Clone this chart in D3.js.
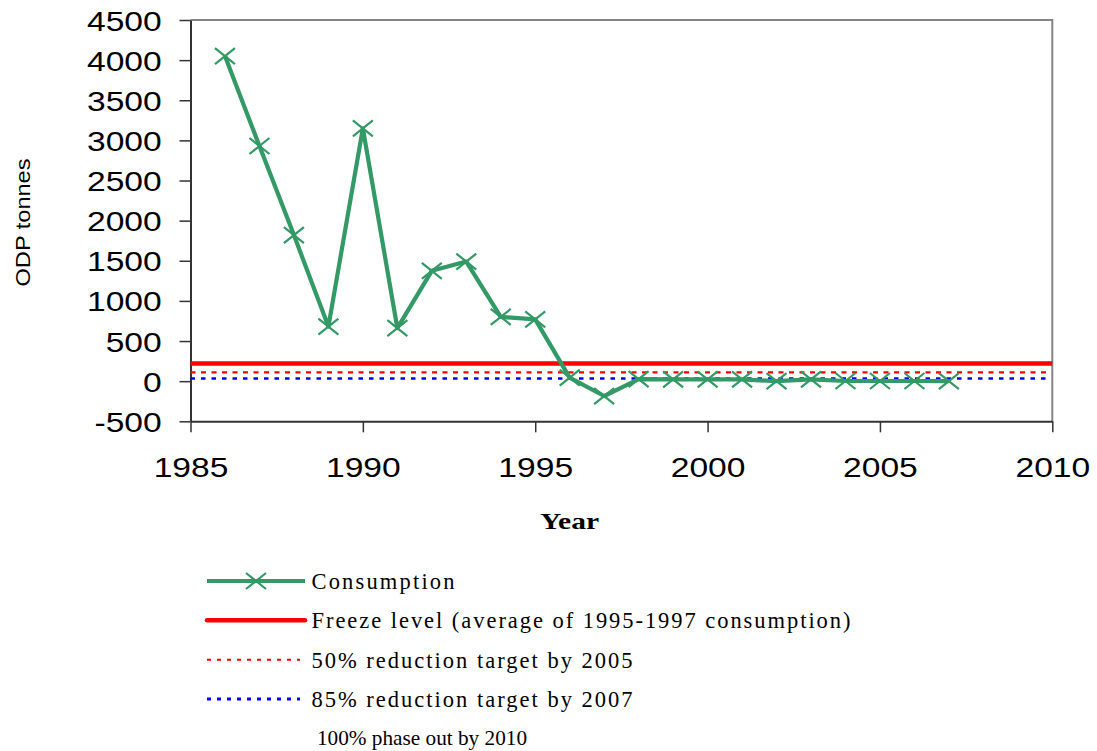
<!DOCTYPE html>
<html><head><meta charset="utf-8">
<script src="https://cdn.jsdelivr.net/npm/d3@7"></script>
<style>html,body{margin:0;padding:0;background:#fff;}svg{display:block;}</style>
</head><body>
<svg id="c" width="1097" height="751"></svg>
<script>
const years = [1986,1987,1988,1989,1990,1991,1992,1993,1994,1995,1996,1997,1998,1999,2000,2001,2002,2003,2004,2005,2006,2007];
const consumption = [4050,2930,1820,680,3150,660,1375,1490,800,770,45,-185,25,22,22,22,0,22,2,2,2,1];
const freezeLevel = 220;
const target50 = 110;
const target85 = 33;
const xTicks = [1985,1990,1995,2000,2005,2010];
const yTicks = [-500,0,500,1000,1500,2000,2500,3000,3500,4000,4500];
const legendLabels = ["Consumption","Freeze level (average of 1995-1997 consumption)","50% reduction target by 2005","85% reduction target by 2007"];
const footnote = "100% phase out by 2010";

const svg = d3.select("#c");
const L=190.5, R=1052.3, T=20, B=421.3;
const x = d3.scaleLinear().domain([1985,2010]).range([L,R]);
const y = d3.scaleLinear().domain([-500,4500]).range([B,T]);
const green="#339966";
const sans="'Liberation Sans', Arial, sans-serif";
const serif="'Liberation Serif', 'Times New Roman', serif";

// frame top/right
svg.append("path").attr("d",`M${L},${T}H${R}V${B}`).attr("fill","none").attr("stroke","#858585").attr("stroke-width",2);

// axes
const fmt = d => String(d);
const ya = svg.append("g").attr("transform",`translate(${L},0)`)
  .call(d3.axisLeft(y).tickValues(yTicks).tickSize(11).tickSizeOuter(0).tickFormat(fmt));
const xa = svg.append("g").attr("transform",`translate(0,${B})`)
  .call(d3.axisBottom(x).tickValues(xTicks).tickSize(11).tickSizeOuter(0).tickFormat(fmt));
[ya,xa].forEach(g=>{
  g.select(".domain").attr("stroke","#333").attr("stroke-width",2);
  g.selectAll(".tick line").attr("stroke","#333").attr("stroke-width",1.5);
  g.selectAll(".tick text").attr("font-family",sans).attr("font-size",28).attr("fill","#000");
});
ya.selectAll(".tick text").attr("x",-24).attr("dy","0.36em").attr("transform","scale(1.2,1)");
xa.selectAll(".tick text").attr("y",55.7).attr("dy",0).attr("transform","scale(1.2,1)");

// reference lines
svg.append("line").attr("x1",L).attr("x2",1046).attr("y1",y(target85)).attr("y2",y(target85))
  .attr("stroke","#0000ff").attr("stroke-width",2.5).attr("stroke-dasharray","4.5,6");
svg.append("line").attr("x1",L).attr("x2",1046).attr("y1",y(target50)).attr("y2",y(target50))
  .attr("stroke","#ff0000").attr("stroke-width",2.2).attr("stroke-dasharray","5,5.5");
svg.append("line").attr("x1",L).attr("x2",R).attr("y1",y(freezeLevel)).attr("y2",y(freezeLevel))
  .attr("stroke","#ff0000").attr("stroke-width",4.5);

// consumption line
const pts = years.map((yr,i)=>[x(yr),y(consumption[i])]);
svg.append("path").attr("d",d3.line()(pts)).attr("fill","none").attr("stroke",green)
  .attr("stroke-width",4.2).attr("stroke-linejoin","round");
function xmark(g,cx,cy){
  g.append("path").attr("d",`M${cx-10},${cy-8}L${cx+10},${cy+8}M${cx-10},${cy+8}L${cx+10},${cy-8}`)
   .attr("stroke",green).attr("stroke-width",2.2).attr("fill","none");
}
const mg = svg.append("g");
pts.forEach(p=>xmark(mg,p[0],p[1]));

// y label
svg.append("text").attr("transform","translate(30,222.5) rotate(-90)").attr("text-anchor","middle")
  .attr("font-family",sans).attr("font-size",20).attr("textLength",128).attr("lengthAdjust","spacingAndGlyphs")
  .text("ODP tonnes");
// x label
svg.append("text").attr("x",540).attr("y",529).attr("font-family",serif).attr("font-weight","bold")
  .attr("font-size",23).attr("textLength",59).attr("lengthAdjust","spacingAndGlyphs").text("Year");

// legend
const ly = [581,620.3,659.7,699];
const lw = [143,539,321,321];
const lg = svg.append("g");
lg.append("line").attr("x1",207).attr("x2",305).attr("y1",ly[0]).attr("y2",ly[0]).attr("stroke",green).attr("stroke-width",4);
xmark(lg,256,ly[0]);
lg.append("line").attr("x1",207).attr("x2",305).attr("y1",ly[1]).attr("y2",ly[1]).attr("stroke","#ff0000").attr("stroke-width",4.5).attr("stroke-linecap","round");
lg.append("line").attr("x1",207).attr("x2",300).attr("y1",ly[2]).attr("y2",ly[2]).attr("stroke","#ff0000").attr("stroke-width",2).attr("stroke-dasharray","4,6");
lg.append("line").attr("x1",207).attr("x2",300).attr("y1",ly[3]).attr("y2",ly[3]).attr("stroke","#0000ff").attr("stroke-width",2.8).attr("stroke-dasharray","4,6");
legendLabels.forEach((t,i)=>{
  lg.append("text").attr("x",311.5).attr("y",ly[i]+8).attr("font-family",serif).attr("font-size",22.5)
    .attr("textLength",lw[i]).attr("lengthAdjust","spacing").text(t);
});
lg.append("text").attr("x",317).attr("y",745).attr("font-family",serif).attr("font-size",22)
  .attr("textLength",210).attr("lengthAdjust","spacingAndGlyphs").text(footnote);
</script>
</body></html>
